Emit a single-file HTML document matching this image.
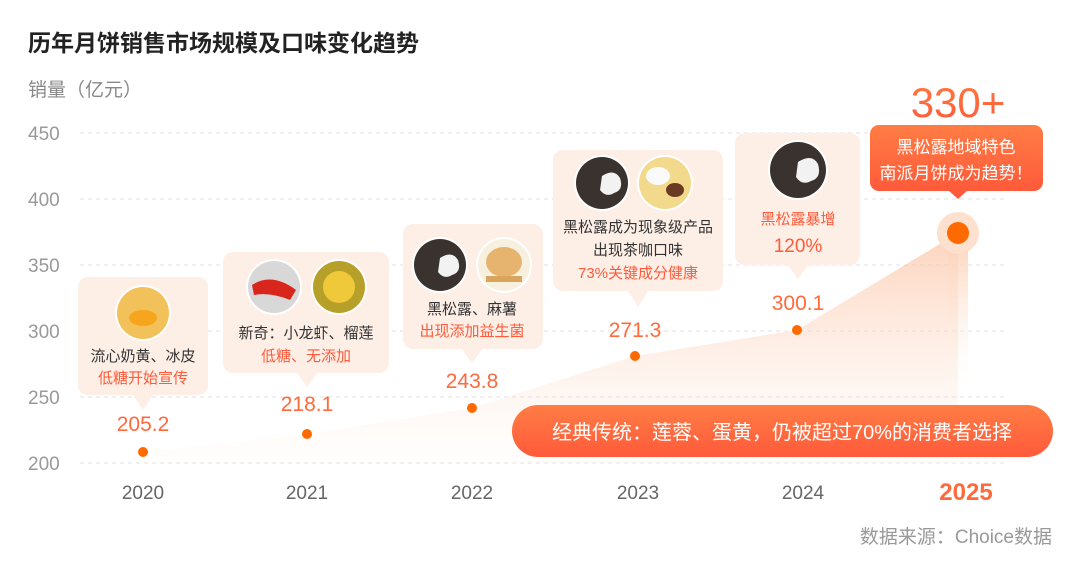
<!DOCTYPE html><html><head><meta charset="utf-8"><style>
body{margin:0;width:1080px;height:575px;background:#fff;overflow:hidden;font-family:"Liberation Sans","Noto Sans CJK SC",sans-serif;}
</style></head><body>
<svg width="1080" height="575" xmlns="http://www.w3.org/2000/svg" style="font-family:'Liberation Sans','Noto Sans CJK SC',sans-serif">
<defs>
<linearGradient id="area" x1="0" y1="0" x2="0" y2="1"><stop offset="0" stop-color="#fbb58e" stop-opacity="0.6"/><stop offset="1" stop-color="#fde6d8" stop-opacity="0.05"/></linearGradient>
<linearGradient id="band" x1="0" y1="0" x2="0" y2="1"><stop offset="0" stop-color="#fcd0b6"/><stop offset="1" stop-color="#fff" stop-opacity="0"/></linearGradient>
<linearGradient id="og" x1="0" y1="0" x2="0" y2="1"><stop offset="0" stop-color="#ff7d45"/><stop offset="1" stop-color="#ff5a3a"/></linearGradient>
<linearGradient id="numg" x1="0" y1="0" x2="0" y2="1"><stop offset="0" stop-color="#ff7a3f"/><stop offset="1" stop-color="#ff5a3a"/></linearGradient>
</defs>
<text x="28" y="51" font-size="23" font-weight="bold" fill="#222">历年月饼销售市场规模及口味变化趋势</text>
<text x="28" y="96" font-size="19" fill="#888">销量（亿元）</text>
<g stroke="#e2e2e2" stroke-dasharray="4 4" stroke-width="1">
<line x1="80" y1="133" x2="1005" y2="133"/><line x1="80" y1="199" x2="1005" y2="199"/><line x1="80" y1="265" x2="1005" y2="265"/><line x1="80" y1="331" x2="1005" y2="331"/><line x1="80" y1="397" x2="1005" y2="397"/><line x1="80" y1="463" x2="1005" y2="463"/>
</g>
<g font-size="19" fill="#999">
<text x="28" y="140">450</text><text x="28" y="206">400</text><text x="28" y="272">350</text><text x="28" y="338">300</text><text x="28" y="404">250</text><text x="28" y="470">200</text>
</g>
<polygon points="143,452 307,434 472,408 635,356 797,330 958,233 958,463 143,463" fill="url(#area)"/>
<rect x="948" y="233" width="20" height="170" fill="url(#band)"/>
<g fill="#ff6a00"><circle cx="143" cy="452" r="5"/><circle cx="307" cy="434" r="5"/><circle cx="472" cy="408" r="5"/><circle cx="635" cy="356" r="5"/><circle cx="797" cy="330" r="5"/></g>
<circle cx="958" cy="233" r="21" fill="#fde0cd"/><circle cx="958" cy="233" r="11" fill="#ff6a00"/>
<g font-size="21" fill="#ff6a3d" text-anchor="middle">
<text x="143" y="431">205.2</text><text x="307" y="411">218.1</text><text x="472" y="388">243.8</text><text x="635" y="337">271.3</text><text x="798" y="310">300.1</text>
</g>
<g font-size="19" fill="#666" text-anchor="middle">
<text x="143" y="499">2020</text><text x="307" y="499">2021</text><text x="472" y="499">2022</text><text x="638" y="499">2023</text><text x="803" y="499">2024</text>
</g>
<text x="966" y="500" font-size="24" font-weight="bold" fill="#ff6a3d" text-anchor="middle">2025</text>
<g fill="#fdeee6">
<rect x="78" y="277" width="130" height="118" rx="10"/><polygon points="133,395 153,395 143,410"/>
<rect x="223" y="252" width="166" height="121" rx="10"/><polygon points="297,373 317,373 307,387"/>
<rect x="403" y="224" width="140" height="125" rx="10"/><polygon points="462,349 482,349 472,363"/>
<rect x="553" y="150" width="170" height="141" rx="10"/><polygon points="628,291 648,291 638,307"/>
<rect x="735" y="133" width="125" height="132" rx="10"/><polygon points="788,265 808,265 798,279"/>
</g>
<circle cx="143" cy="313" r="28" fill="#fff"/><circle cx="143" cy="313" r="26" fill="#f2c15a"/><ellipse cx="143" cy="318" rx="14" ry="8" fill="#f7a51c"/>
<circle cx="274" cy="287" r="28" fill="#fff"/><circle cx="274" cy="287" r="26" fill="#d8d8d8"/><path d="M252 285 Q272 272 296 290 L290 300 Q270 292 254 295Z" fill="#d9261c"/>
<circle cx="339" cy="287" r="28" fill="#fff"/><circle cx="339" cy="287" r="26" fill="#b7a02a"/><circle cx="339" cy="287" r="16" fill="#f0c93a"/>
<circle cx="440" cy="265" r="28" fill="#fff"/><circle cx="440" cy="265" r="26" fill="#3a322e"/><path d="M440 258 Q452 250 458 260 Q462 272 452 275 Q444 280 438 272Z" fill="#f2f2f2"/>
<circle cx="504" cy="265" r="28" fill="#fff"/><circle cx="504" cy="265" r="26" fill="#f7f0df"/><ellipse cx="504" cy="262" rx="18" ry="15" fill="#e7b470"/><rect x="486" y="276" width="36" height="6" fill="#d9a45c"/>
<circle cx="602" cy="183" r="28" fill="#fff"/><circle cx="602" cy="183" r="26" fill="#3a322e"/><path d="M602 176 Q614 168 620 178 Q624 190 614 193 Q606 198 600 190Z" fill="#f2f2f2"/>
<circle cx="665" cy="183" r="28" fill="#fff"/><circle cx="665" cy="183" r="26" fill="#f3d98c"/><ellipse cx="658" cy="176" rx="12" ry="9" fill="#fafafa"/><ellipse cx="675" cy="190" rx="9" ry="7" fill="#6b3a22"/>
<circle cx="798" cy="170" r="30" fill="#fff"/><circle cx="798" cy="170" r="28" fill="#3a322e"/><path d="M798 162 Q812 153 818 164 Q822 178 811 181 Q802 186 796 177Z" fill="#f2f2f2"/>
<g font-size="15" text-anchor="middle" fill="#333">
<text x="143" y="361">流心奶黄、冰皮</text><text x="306" y="338">新奇：小龙虾、榴莲</text><text x="472" y="314">黑松露、麻薯</text>
<text x="638" y="232">黑松露成为现象级产品</text><text x="638" y="255">出现茶咖口味</text>
</g>
<g font-size="15" text-anchor="middle" fill="#ff5a3a">
<text x="143" y="383">低糖开始宣传</text><text x="306" y="361">低糖、无添加</text><text x="472" y="336">出现添加益生菌</text><text x="638" y="278">73%关键成分健康</text><text x="798" y="224">黑松露暴增</text>
</g>
<text x="798" y="252" font-size="19" fill="#ff5a3a" text-anchor="middle">120%</text>
<text x="958" y="117" font-size="42" fill="url(#numg)" text-anchor="middle">330+</text>
<rect x="870" y="125" width="173" height="66" rx="9" fill="url(#og)"/><polygon points="948,190 968,190 958,199" fill="#ff5a3a"/>
<g font-size="17" fill="#fff" text-anchor="middle"><text x="956" y="153">黑松露地域特色</text><text x="956" y="179">南派月饼成为趋势！</text></g>
<rect x="512" y="405" width="541" height="52" rx="26" fill="url(#og)"/>
<text x="782" y="439" font-size="20" fill="#fff" text-anchor="middle">经典传统：莲蓉、蛋黄，仍被超过70%的消费者选择</text>
<text x="1052" y="543" font-size="19" fill="#999" text-anchor="end">数据来源：Choice数据</text>
</svg>
</body></html>
